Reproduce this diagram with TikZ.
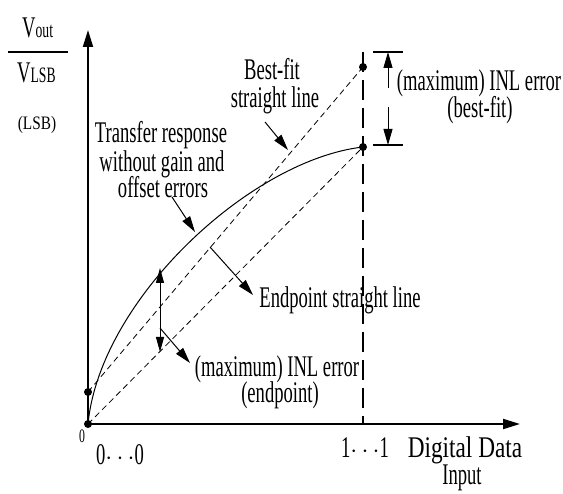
\documentclass[tikz,border=0pt]{standalone}
\usepackage{fontspec}
\setmainfont{Liberation Serif}[FakeStretch=0.62]
\usetikzlibrary{arrows.meta}

\tikzset{
  axisline/.style={line width=2pt, -{Triangle[length=17pt,width=10pt]}},
  guide/.style={line width=0.8pt, dash pattern=on 6pt off 4pt},
  cutline/.style={line width=2pt, dash pattern=on 20pt off 8pt},
  pointer/.style={line width=1pt, -{Triangle[length=16pt,width=9pt]}},
  bar/.style={line width=1.2pt},
  dotmark/.style={circle, fill=black, inner sep=0pt, minimum size=8pt},
  txt/.style={font=\fontsize{30}{30}\selectfont, inner sep=0pt, anchor=base},
}
\newcommand{\subsz}{\fontsize{22}{22}\selectfont}

\begin{document}
\begin{tikzpicture}[x=1pt, y=-1pt]
\useasboundingbox (0,0) rectangle (563,494);

% marked points
\node[dotmark] (O)  at (88,424) {};
\node[dotmark] (B0) at (88,392) {};
\node[dotmark] (B1) at (363,67) {};
\node[dotmark] (E1) at (363,147) {};

% axes
\coordinate (ytip) at (88,30);
\coordinate (xtip) at (520,424);
\draw[axisline] (O.center) -- (ytip);
\draw[axisline] (O.center) -- (xtip);

% full-scale input marker
\coordinate (vtop) at (363,52);
\coordinate (vbot) at (363,424);
\draw[cutline] (vtop) -- (vbot);

% straight-line fits and the transfer curve
\draw[guide] (B0.center) -- (B1.center);
\draw[guide] (O.center) -- (E1.center);
\draw[line width=1pt] (O.center) .. controls (100,300) and (250,160) .. (E1.center);

% best-fit INL dimension
\coordinate (bt1) at (373,52);  \coordinate (bt2) at (403,52);
\coordinate (bb1) at (373,145); \coordinate (bb2) at (403,145);
\draw[bar] (bt1) -- (bt2);
\draw[bar] (bb1) -- (bb2);
\coordinate (upS) at (388,88);  \coordinate (upT) at (388,52);
\coordinate (dnS) at (388,107); \coordinate (dnT) at (388,145);
\draw[pointer] (upS) -- (upT);
\draw[pointer] (dnS) -- (dnT);

% endpoint INL dimension
\coordinate (eiT) at (160,268);
\coordinate (eiB) at (160,352);
\draw[line width=1pt, {Triangle[length=15pt,width=8pt]}-{Triangle[length=15pt,width=8pt]}] (eiT) -- (eiB);

% labels
\node[txt] (tr1) at (161,143) {Transfer response};
\node[txt] (tr2) at (162,172) {without gain and};
\node[txt] (tr3) at (163,198) {offset errors};
\node[txt] (bf1) at (272,80) {Best-fit};
\node[txt] (bf2) at (275,108) {straight line};
\node[txt] (ib1) at (479,91) {(maximum) INL error};
\node[txt] (ib2) at (480,118) {(best-fit)};
\node[txt] (ep)  at (340,308) {Endpoint straight line};
\node[txt] (ie1) at (277,377) {(maximum) INL error};
\node[txt] (ie2) at (280,403) {(endpoint)};
\node[txt, font=\fontsize{19}{19}\selectfont] (zero) at (82,443) {0};
\node[txt] (lo) at (120,465) {0$\cdots$0};
\node[txt] (hi) at (365,458) {1$\cdots$1};
\node[txt] (dd1) at (465,458) {\scalebox{1.25}[1]{Digital Data}};
\node[txt] (dd2) at (462,485) {Input};
\node[txt, anchor=base west] (vo) at (22,38) {V{\subsz out}};
\node[txt, anchor=base west] (vl) at (17,83) {V{\subsz LSB}};
\node[txt, font=\fontsize{19}{19}\selectfont] (un) at (37,130) {\scalebox{1.3}[1]{(LSB)}};
\coordinate (fl) at (8,52); \coordinate (fr) at (68,52);
\draw[line width=1.2pt] (fl) -- (fr);

% pointers from labels
\coordinate (p1s) at (172,197); \coordinate (p1t) at (195,232);
\coordinate (p2s) at (265,122); \coordinate (p2t) at (288,150);
\coordinate (p3s) at (210,247); \coordinate (p3t) at (253,295);
\coordinate (p4s) at (160,328); \coordinate (p4t) at (190,363);
\draw[pointer] (p1s) -- (p1t);
\draw[pointer] (p2s) -- (p2t);
\draw[pointer] (p3s) -- (p3t);
\draw[pointer] (p4s) -- (p4t);
\end{tikzpicture}
\end{document}
